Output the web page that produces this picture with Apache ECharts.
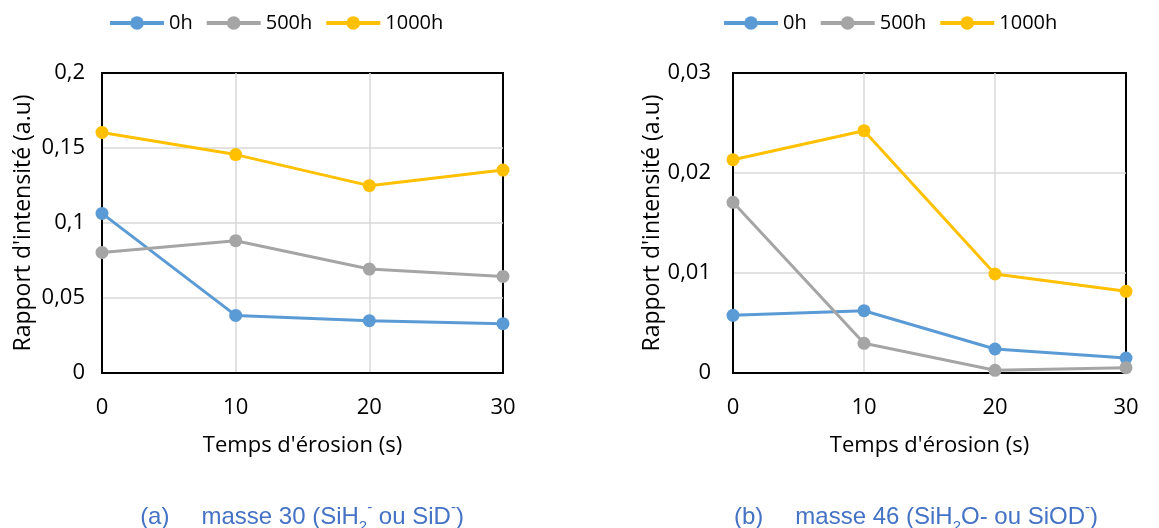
<!DOCTYPE html>
<html>
<head>
<meta charset="utf-8">
<script src="https://cdn.jsdelivr.net/npm/echarts@6/dist/echarts.min.js"></script>
<style>
  html, body { margin: 0; padding: 0; background: #fff; }
  #chart { width: 1159px; height: 528px; }
</style>
</head>
<body>
<div id="chart"></div>
<script>
const seriesNames = ["0h", "500h", "1000h"];
const colors = ["#5B9BD5", "#A5A5A5", "#FFC000"];
const times = [0, 10, 20, 30];

// (a) masse 30
const massA_0h = [0.1064, 0.0384, 0.0349, 0.0329];
const massA_500h = [0.0804, 0.0882, 0.0693, 0.0644];
const massA_1000h = [0.1604, 0.1456, 0.1249, 0.1353];

// (b) masse 46
const massB_0h = [0.00577, 0.00623, 0.0024, 0.0015];
const massB_500h = [0.01707, 0.00297, 0.00027, 0.00053];
const massB_1000h = [0.02133, 0.02423, 0.0099, 0.00817];

const font = "'Open Sans', 'Noto Sans', sans-serif";
const fs = 22;

const chart = echarts.init(document.getElementById("chart"));

const pair = (vals) => times.map((t, i) => [t, vals[i]]);

const fmtComma = (v) => String(+v.toFixed(3)).replace(".", ",");

const makeX = (idx) => ({
  type: "value",
  gridIndex: idx,
  min: 0,
  max: 30,
  interval: 10,
  name: "Temps d'érosion (s)",
  nameLocation: "middle",
  nameGap: 62,
  nameTextStyle: { color: "#000", fontSize: fs, fontFamily: font },
  axisLine: { show: true, lineStyle: { color: "#000", width: 2 } },
  axisTick: { show: false },
  axisLabel: { color: "#000", fontSize: fs, fontFamily: font, margin: 24 },
  splitLine: { show: true, showMinLine: false, showMaxLine: false, lineStyle: { color: "#d9d9d9", width: 1.5 } },
});

const makeY = (idx, max, interval, margin) => ({
  type: "value",
  gridIndex: idx,
  min: 0,
  max: max,
  interval: interval,
  name: "Rapport d'intensité (a.u)",
  nameLocation: "middle",
  nameGap: 67,
  nameTextStyle: { color: "#000", fontSize: 23, fontFamily: font },
  axisLine: { show: true, lineStyle: { color: "#000", width: 2 } },
  axisTick: { show: false },
  axisLabel: { color: "#000", fontSize: fs, fontFamily: font, margin: margin, formatter: fmtComma },
  splitLine: { show: true, showMinLine: false, showMaxLine: false, lineStyle: { color: "#d9d9d9", width: 1.5 } },
});

const makeSeries = (name, color, vals, idx) => ({
  name: name,
  type: "line",
  xAxisIndex: idx,
  yAxisIndex: idx,
  data: pair(vals),
  symbol: "circle",
  symbolSize: 13,
  lineStyle: { color: color, width: 3 },
  itemStyle: { color: color },
  z: 3,
});

const legendBase = {
  data: seriesNames,
  top: 8,
  itemWidth: 54,
  itemHeight: 17,
  itemGap: 12,
  lineStyle: { width: 4 },
  textStyle: { color: "#000", fontSize: 20, fontFamily: font },
};

const capFont = "'Liberation Sans', Arial, sans-serif";
const captionRich = {
  t: { fontSize: 24, color: "#4472C4", fontFamily: capFont, fontWeight: "normal", verticalAlign: "middle", lineHeight: 34 },
  gap: { fontSize: 24, color: "#4472C4", fontFamily: capFont, fontWeight: "normal", verticalAlign: "middle", lineHeight: 34, width: 32 },
  sub: { fontSize: 15, color: "#4472C4", fontFamily: capFont, fontWeight: "normal", verticalAlign: "bottom", lineHeight: 22 },
  sup: { fontSize: 15, color: "#4472C4", fontFamily: capFont, fontWeight: "normal", verticalAlign: "top", lineHeight: 18 },
};

const option = {
  backgroundColor: "#fff",
  animation: false,
  color: colors,
  title: [
    {
      text: "{t|(a)}{gap| }{t|masse 30 (SiH}{sub|2}{sup|-}{t| ou SiD}{sup|-}{t|)}",
      left: 297,
      top: 495,
      textAlign: "center",
      textStyle: { fontWeight: "normal", rich: captionRich },
    },
    {
      text: "{t|(b)}{gap| }{t|masse 46 (SiH}{sub|2}{t|O- ou SiOD}{sup|-}{t|)}",
      left: 911,
      top: 495,
      textAlign: "center",
      textStyle: { fontWeight: "normal", rich: captionRich },
    },
  ],
  legend: [
    Object.assign({}, legendBase, { left: 103 }),
    Object.assign({}, legendBase, { left: 717 }),
  ],
  grid: [
    { left: 102, top: 73, width: 401, height: 300, show: true, borderColor: "#000", borderWidth: 2, backgroundColor: "transparent" },
    { left: 733, top: 73, width: 393, height: 300, show: true, borderColor: "#000", borderWidth: 2, backgroundColor: "transparent" },
  ],
  xAxis: [makeX(0), makeX(1)],
  yAxis: [makeY(0, 0.2, 0.05, 17), makeY(1, 0.03, 0.01, 22)],
  series: [
    makeSeries("0h", colors[0], massA_0h, 0),
    makeSeries("500h", colors[1], massA_500h, 0),
    makeSeries("1000h", colors[2], massA_1000h, 0),
    makeSeries("0h", colors[0], massB_0h, 1),
    makeSeries("500h", colors[1], massB_500h, 1),
    makeSeries("1000h", colors[2], massB_1000h, 1),
  ],
};

chart.setOption(option);
window.addEventListener("resize", () => chart.resize());
</script>
</body>
</html>
